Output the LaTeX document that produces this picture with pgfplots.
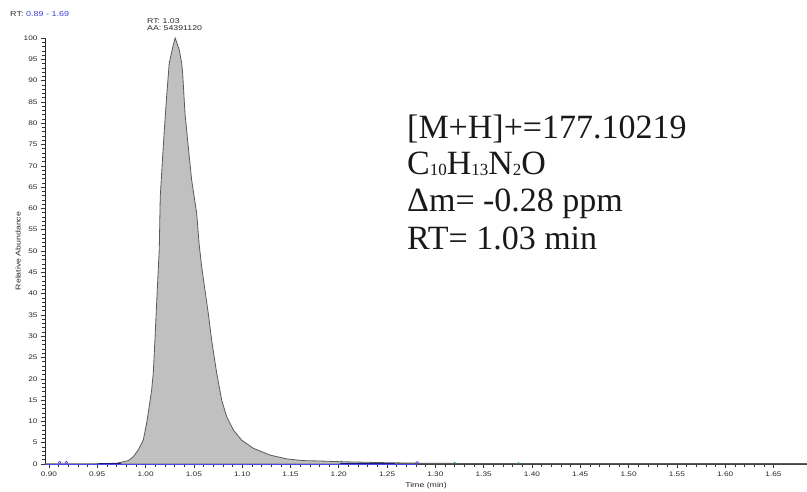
\documentclass[border=0pt]{standalone}
\usepackage{pgfplots}
\pgfplotsset{compat=1.18}
\usepackage{fontspec}
\setmainfont{Liberation Sans}
\newfontfamily\annot{Liberation Serif}
\newfontfamily\chart[FakeStretch=1.25]{Liberation Sans}
\definecolor{peakfill}{HTML}{C0C0C0}
\definecolor{peakline}{HTML}{5A5A5A}
\definecolor{tracebl}{HTML}{4A4AE8}
\definecolor{navyd}{HTML}{1A1A7A}
\definecolor{rtblue}{HTML}{3C3CD8}
\definecolor{dotgreen}{HTML}{2E9A5A}
\begin{document}
\begin{tikzpicture}
\useasboundingbox (-45pt,-27pt) rectangle (762pt,464pt);
\begin{axis}[
  at={(0pt,0pt)}, anchor=south west,
  scale only axis, width=762pt, height=426pt,
  xmin=0.8959, xmax=1.6847, ymin=0, ymax=100,
  axis x line=bottom, axis y line=left,
  axis line style={-, draw=black!85, line width=0.6pt},
  xtick={0.90,0.95,1.00,1.05,1.10,1.15,1.20,1.25,1.30,1.35,1.40,1.45,1.50,1.55,1.60,1.65},
  minor x tick num=4,
  ytick={0,5,...,100}, minor y tick num=4,
  tick align=outside,
  major tick length=4pt, minor tick length=2.5pt,
  tick style={black!80, line width=0.55pt},
  /pgf/number format/assume math mode=true,
  x tick label style={/pgf/number format/.cd, fixed, fixed zerofill, precision=2, assume math mode=true, /tikz/.cd},
  y tick label style={/pgf/number format/.cd, fixed, precision=0, assume math mode=true, /tikz/.cd},
  tick label style={font=\chart\fontsize{6.6}{7.5}\selectfont, text=black!85},
  xlabel={Time (min)},
  ylabel={Relative Abundance},
  xlabel style={at={(axis description cs:0.5,-0.0563)}, anchor=base, font=\chart\fontsize{7}{8}\selectfont, text=black!85},
  ylabel style={at={(axis description cs:-0.0354,0.5)}, anchor=center, font=\chart\fontsize{7}{8}\selectfont, text=black!85},
  clip=false,
]
\addplot[draw=peakline, line width=0.8pt, fill=peakfill] coordinates {
(0.8959,0.05) (0.930,0.05) (0.960,0.1) (0.970,0.2) (0.9745,0.4) (0.9821,0.8)
(0.9873,1.7) (0.9924,3.3) (0.9976,5.6) (1.0011,9.6) (1.0038,13.5) (1.0063,17.4)
(1.0080,21.4) (1.0097,29.1) (1.0121,40.8) (1.0142,50.5) (1.0152,62.7) (1.0173,70.7)
(1.0194,78.4) (1.0218,86.2) (1.0245,94.1) (1.0287,98.4) (1.0307,100) (1.0349,97.2)
(1.0374,94.1) (1.0384,91.7) (1.0408,82.4) (1.0442,74.5) (1.0477,66.7) (1.0529,58.9)
(1.0555,51.5) (1.0581,46.3) (1.0615,40.8) (1.0649,35.4) (1.0684,29.1) (1.0736,21.4)
(1.0788,15.0) (1.0840,11.1) (1.0908,8.0) (1.0995,5.6) (1.1115,3.7) (1.1288,2.1)
(1.1461,1.2) (1.1629,0.8) (1.1805,0.7) (1.2000,0.55) (1.2500,0.3) (1.3000,0.15)
(1.4000,0.1) (1.6847,0.1)
} \closedcycle;
\addplot[draw=tracebl, line width=0.9pt] coordinates {(0.8959,0) (1.281,0)};
\addplot[draw=navyd, line width=1pt] coordinates {(0.952,0.1) (0.975,0.1)};
\addplot[draw=navyd, line width=1pt] coordinates {(1.201,0.15) (1.258,0.15)};
\addplot[only marks, mark=o, mark size=1.3pt, draw=tracebl, line width=0.6pt] coordinates {(0.911,0.35) (0.918,0.35) (1.281,0.3)};
\addplot[only marks, mark=*, mark size=0.7pt, draw=dotgreen, fill=dotgreen] coordinates {(1.203,0.6) (1.32,0.3) (1.386,0.2)};
\end{axis}
\node[anchor=base west, inner sep=0pt, font=\chart\fontsize{7.2}{8}\selectfont, text=black!80] at (-35pt,447pt) {RT: \textcolor{rtblue}{0.89 - 1.69}};
\node[anchor=base west, inner sep=0pt, font=\chart\fontsize{7}{8}\selectfont, text=black!85] at (102pt,440pt) {RT: 1.03};
\node[anchor=base west, inner sep=0pt, font=\chart\fontsize{7}{8}\selectfont, text=black!85] at (102pt,433pt) {AA: 54391120};
\begin{scope}[every node/.style={anchor=base west, inner sep=0pt, font=\annot\fontsize{34}{36}\selectfont, text=black!90}]
\node at (362pt,325pt) {[M+H]+=177.10219};
\node at (362pt,289pt) {C\raisebox{-1pt}{\fontsize{17}{17}\selectfont 10}H\raisebox{-1pt}{\fontsize{17}{17}\selectfont 13}N\raisebox{-1pt}{\fontsize{17}{17}\selectfont 2}O};
\node at (362pt,252pt) {Δm= -0.28 ppm};
\node at (362pt,214pt) {RT= 1.03 min};
\end{scope}
\end{tikzpicture}
\end{document}
